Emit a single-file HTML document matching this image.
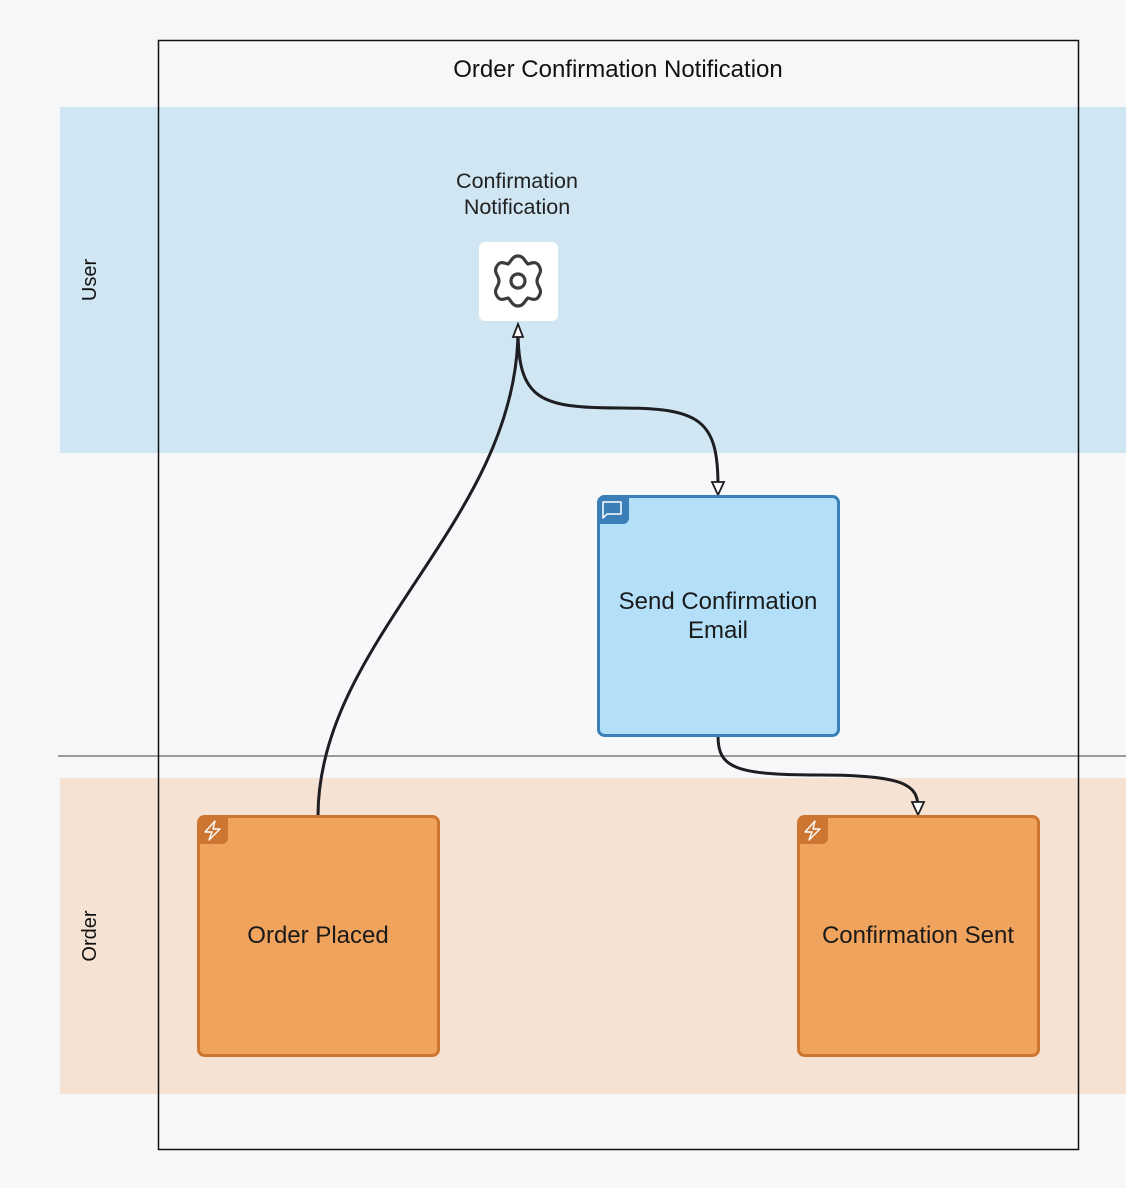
<!DOCTYPE html>
<html><head><meta charset="utf-8"><style>
body{margin:0;background:#f5f7f9;font-family:"Liberation Sans",sans-serif;}
</style></head><body>
<svg width="1126" height="1188" xmlns="http://www.w3.org/2000/svg" style="display:block">
<rect width="1126" height="1188" fill="#f5f7f9"/>
<rect x="60" y="107" width="1066" height="346" fill="#d0e7f3"/>
<rect x="60" y="455" width="1066" height="300" fill="#f6f8fa"/>
<line x1="58" y1="756" x2="1126" y2="756" stroke="#9a9a9a" stroke-width="2"/>
<rect x="60" y="778" width="1066" height="316" fill="#f5e2d2"/>
<rect x="158.5" y="40.5" width="920" height="1109" fill="none" stroke="#111" stroke-width="1.5"/>
<text x="618" y="77" font-size="24" text-anchor="middle" fill="#111">Order Confirmation Notification</text>
<text transform="translate(96,280) rotate(-90)" font-size="20" text-anchor="middle" fill="#111">User</text>
<text transform="translate(96,936) rotate(-90)" font-size="20" text-anchor="middle" fill="#111">Order</text>
<text x="517" y="188" font-size="21.5" text-anchor="middle" fill="#222">Confirmation</text>
<text x="517" y="214" font-size="21.5" text-anchor="middle" fill="#222">Notification</text>
<rect x="479" y="242" width="79" height="79" rx="6" fill="#fff"/>
<g transform="translate(518,281)" fill="none" stroke="#3c3c3c" stroke-width="3.2">
<path d="M0,-25 C6,-25 7,-19 10,-17 C14,-18 19,-21 22,-13 C24,-8 19,-5 19,0 C19,5 24,8 22,13 C19,21 14,18 10,17 C7,19 6,25 0,25 C-6,25 -7,19 -10,17 C-14,18 -19,21 -22,13 C-24,8 -19,5 -19,0 C-19,-5 -24,-8 -22,-13 C-19,-21 -14,-18 -10,-17 C-7,-19 -6,-25 0,-25 Z"/>
<circle r="7"/>
</g>
<g fill="none" stroke="#1e1e22" stroke-width="3">
<path d="M318,816 C318,640 518,520 518,330"/>
<path d="M518,330 C518,400 540,408 620,408 C700,408 718,420 718,486"/>
<path d="M718,736 C718,768 735,775 820,775 C905,775 918,785 918,808"/>
</g>
<g fill="#fff" stroke="#1e1e22" stroke-width="1.8">
<path d="M513,337 L518,324 L523,337 Z"/>
<path d="M712,482 L718,495 L724,482 Z"/>
<path d="M912,802 L918,815 L924,802 Z"/>
</g>
<rect x="598.5" y="496.5" width="240" height="239" rx="6" fill="#b3dff9" stroke="#3a7fb8" stroke-width="3"/>
<path d="M598,502 a6,6 0 0 1 6,-6 H629 V518 a6,6 0 0 1 -6,6 H598 Z" fill="#3a7fb8"/>
<path d="M603,502 h18 v12 h-14 l-4,4 Z" fill="none" stroke="#fff" stroke-width="1.5" stroke-linejoin="round"/>
<text x="718" y="609" font-size="24" text-anchor="middle" fill="#1a1a1a">Send Confirmation</text>
<text x="718" y="638" font-size="24" text-anchor="middle" fill="#1a1a1a">Email</text>
<rect x="198.5" y="816.5" width="240" height="239" rx="6" fill="#f0a35c" stroke="#cd7633" stroke-width="3"/>
<path d="M198,822 a6,6 0 0 1 6,-6 H228 V838 a6,6 0 0 1 -6,6 H198 Z" fill="#cd7633"/>
<path d="M215,821 L205,832 H212 L209,840 L220,829 H213 Z" fill="none" stroke="#fff" stroke-width="1.4" stroke-linejoin="round"/>
<text x="318" y="943" font-size="24" text-anchor="middle" fill="#1a1a1a">Order Placed</text>
<rect x="798.5" y="816.5" width="240" height="239" rx="6" fill="#f0a35c" stroke="#cd7633" stroke-width="3"/>
<path d="M798,822 a6,6 0 0 1 6,-6 H828 V838 a6,6 0 0 1 -6,6 H798 Z" fill="#cd7633"/>
<path d="M815,821 L805,832 H812 L809,840 L820,829 H813 Z" fill="none" stroke="#fff" stroke-width="1.4" stroke-linejoin="round"/>
<text x="918" y="943" font-size="24" text-anchor="middle" fill="#1a1a1a">Confirmation Sent</text>
</svg>
</body></html>
